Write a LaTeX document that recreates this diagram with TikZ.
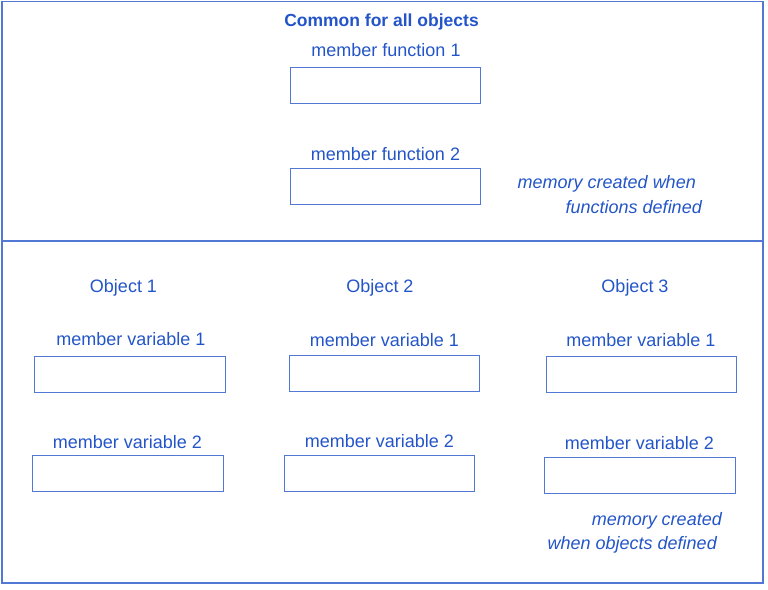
\documentclass[tikz,border=0pt]{standalone}
\usepackage{fontspec}
\setmainfont{Liberation Sans}
\definecolor{txtblue}{RGB}{35,85,200}
\definecolor{lineblue}{RGB}{80,120,212}
\begin{document}
\begin{tikzpicture}[x=1pt,y=-1pt,
  lbl/.style={anchor=base,text=txtblue,font=\fontsize{18}{20}\selectfont,inner sep=0pt},
  ttl/.style={lbl,font=\fontsize{17.5}{20}\selectfont\bfseries},
  note/.style={lbl,font=\fontsize{18}{20}\selectfont\itshape,anchor=base east},
  slot/.style={draw=lineblue,line width=1.3pt,minimum width=190pt,minimum height=36pt,inner sep=0pt,anchor=north west},
  frame/.style={draw=lineblue,line width=1.3pt}]
\useasboundingbox (0,0) rectangle (768,589);
% frame
\draw[frame] (2,1.5) rectangle (763,583);
\draw[frame] (2,241) -- (763,241);
% common part
\node[ttl] (title) at (381.5,27) {Common for all objects};
\node[lbl] (mf1) at (386,56) {member function 1};
\node[slot] (f1) at (290,67) {};
\node[lbl] (mf2) at (385.5,160) {member function 2};
\node[slot] (f2) at (290,168) {};
\node[note] (n1a) at (696,188) {memory created when};
\node[note] (n1b) at (702,213) {functions defined};
% objects
\node[lbl] (o1) at (123.5,292) {Object 1};
\node[lbl] (o2) at (380,292) {Object 2};
\node[lbl] (o3) at (635,292) {Object 3};
\node[lbl] (v11) at (131,345) {member variable 1};
\node[lbl] (v21) at (384.5,346) {member variable 1};
\node[lbl] (v31) at (641,346) {member variable 1};
\node[slot,minimum width=191pt] (a1) at (34,356) {};
\node[slot] (b1) at (289,355) {};
\node[slot] (c1) at (546,356) {};
\node[lbl] (v12) at (127.5,448) {member variable 2};
\node[lbl] (v22) at (379.5,447) {member variable 2};
\node[lbl] (v32) at (639.5,449) {member variable 2};
\node[slot,minimum width=191pt] (a2) at (32,455) {};
\node[slot] (b2) at (284,455) {};
\node[slot,minimum width=191pt] (c2) at (544,457) {};
\node[note] (n2a) at (722,525) {memory created};
\node[note] (n2b) at (717,549) {when objects defined};
\end{tikzpicture}
\end{document}
